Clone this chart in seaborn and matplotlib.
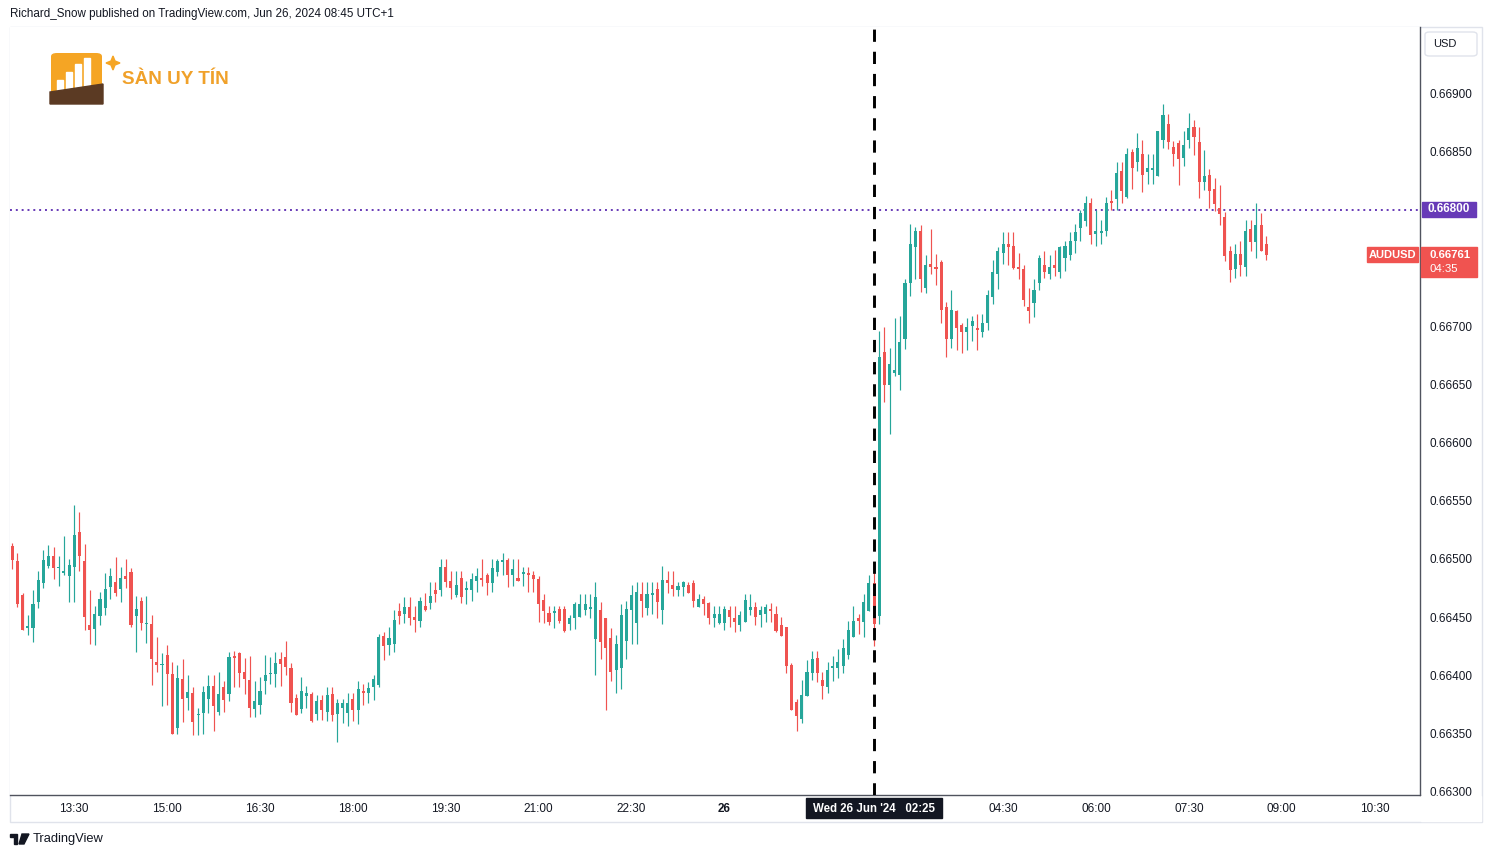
import numpy as np
import pandas as pd
import matplotlib
matplotlib.use("Agg")
import matplotlib.pyplot as plt
import seaborn as sns
from matplotlib.patches import Rectangle, FancyBboxPatch, Polygon

# ---------------- data (AUDUSD 5-min candles, 25 Jun 12:30 -> 26 Jun 08:45) ----------------
start_time = "2024-06-25 12:30"
opens = [0.66511,0.66498,0.66469,0.66441,0.66441,0.66463,0.66479,0.66494,0.66503,0.66492,0.66488,0.66485,0.66493,0.66523,0.66498,0.66443,0.66440,0.66451,0.66458,0.66476,0.66480,0.66474,0.66485,0.66489,
         0.66451,0.66464,0.66444,0.66444,0.66412,0.66409,0.66418,0.66401,0.66355,0.66397,0.66381,0.66385,0.66366,0.66368,0.66380,0.66391,0.66369,0.66390,0.66384,0.66417,0.66419,0.66403,0.66396,
         0.66371,0.66375,0.66395,0.66401,0.66401,0.66414,0.66416,0.66406,0.66381,0.66371,0.66382,0.66384,0.66367,0.66379,0.66369,0.66384,0.66367,0.66372,0.66368,0.66380,0.66370,0.66387,0.66385,
         0.66390,0.66392,0.66434,0.66426,0.66427,0.66455,0.66453,0.66459,0.66450,0.66447,0.66460,0.66462,0.66473,0.66473,0.66493,0.66481,0.66469,0.66484,0.66473,0.66473,0.66481,0.66484,0.66486,
         0.66479,0.66489,0.66497,0.66499,0.66486,0.66484,0.66487,0.66488,0.66486,0.66483,0.66465,0.66454,0.66454,0.66457,0.66457,0.66444,0.66449,0.66450,0.66456,0.66457,0.66431,0.66456,0.66449,
         0.66432,0.66405,0.66406,0.66430,0.66456,0.66445,0.66470,0.66458,0.66469,0.66474,0.66456,0.66482,0.66478,0.66473,0.66476,0.66478,0.66479,0.66459,0.66466,0.66462,0.66449,0.66445,0.66445,0.66456,
         0.66449,0.66443,0.66446,0.66456,0.66459,0.66452,0.66453,0.66457,0.66453,0.66443,0.66442,0.66409,0.66377,0.66363,0.66382,0.66402,0.66415,0.66396,0.66390,0.66406,0.66406,0.66408,
         0.66418,0.66433,0.66449,0.66446,0.66455,0.66479,0.66451,0.66678,0.66649,0.66660,0.66658,0.66689,0.66737,0.66768,0.66782,0.66733,0.66753,0.66751,
         0.66755,0.66716,0.66689,0.66713,0.66701,0.66695,0.66700,0.66698,0.66695,0.66703,0.66725,0.66745,0.66763,0.66770,0.66769,0.66751,0.66749,0.66716,0.66720,0.66737,0.66752,0.66745,0.66752,
         0.66746,0.66758,0.66761,0.66773,0.66784,0.66790,0.66806,0.66779,0.66780,0.66782,0.66807,0.66809,0.66833,0.66811,0.66849,0.66841,0.66848,0.66832,0.66834,0.66829,0.66860,0.66873,
         0.66854,0.66857,0.66844,0.66860,0.66871,0.66858,0.66824,0.66830,0.66818,0.66801,0.66794,0.66764,0.66749,0.66762,0.66751,0.66783,0.66772,0.66787,0.66770]
highs = [0.66514,0.66505,0.66471,0.66452,0.66473,0.66490,0.66508,0.66512,0.66510,0.66503,0.66520,0.66500,0.66546,0.66540,0.66513,0.66473,0.66460,0.66472,0.66488,0.66492,0.66502,0.66493,0.66500,0.66492,
         0.66468,0.66467,0.66468,0.66452,0.66433,0.66419,0.66426,0.66412,0.66409,0.66414,0.66400,0.66390,0.66372,0.66391,0.66400,0.66400,0.66403,0.66395,0.66420,0.66421,0.66420,0.66415,0.66417,
         0.66395,0.66399,0.66418,0.66416,0.66420,0.66420,0.66430,0.66411,0.66384,0.66399,0.66391,0.66386,0.66383,0.66383,0.66390,0.66390,0.66380,0.66380,0.66385,0.66385,0.66395,0.66393,0.66394,
         0.66400,0.66436,0.66437,0.66442,0.66456,0.66462,0.66467,0.66467,0.66460,0.66467,0.66471,0.66480,0.66480,0.66500,0.66500,0.66490,0.66490,0.66490,0.66481,0.66488,0.66492,0.66500,0.66488,
         0.66500,0.66500,0.66505,0.66501,0.66500,0.66500,0.66493,0.66493,0.66490,0.66485,0.66470,0.66460,0.66460,0.66460,0.66460,0.66452,0.66463,0.66470,0.66470,0.66470,0.66480,0.66463,0.66449,
         0.66441,0.66435,0.66461,0.66464,0.66478,0.66480,0.66480,0.66480,0.66480,0.66480,0.66494,0.66490,0.66490,0.66480,0.66481,0.66480,0.66482,0.66470,0.66468,0.66463,0.66460,0.66460,0.66460,0.66460,
         0.66460,0.66455,0.66470,0.66470,0.66463,0.66460,0.66461,0.66462,0.66460,0.66450,0.66442,0.66411,0.66380,0.66396,0.66413,0.66421,0.66421,0.66403,0.66412,0.66417,0.66423,0.66431,
         0.66447,0.66460,0.66453,0.66470,0.66486,0.66490,0.66696,0.66699,0.66681,0.66707,0.66709,0.66740,0.66788,0.66785,0.66787,0.66761,0.66783,0.66762,
         0.66757,0.66721,0.66731,0.66714,0.66703,0.66707,0.66709,0.66710,0.66710,0.66731,0.66757,0.66768,0.66781,0.66781,0.66781,0.66763,0.66752,0.66733,0.66740,0.66761,0.66764,0.66761,0.66765,
         0.66769,0.66773,0.66781,0.66788,0.66800,0.66812,0.66810,0.66800,0.66791,0.66811,0.66817,0.66841,0.66841,0.66853,0.66852,0.66866,0.66860,0.66848,0.66848,0.66867,0.66891,0.66882,
         0.66859,0.66860,0.66867,0.66883,0.66877,0.66871,0.66851,0.66835,0.66827,0.66821,0.66798,0.66769,0.66770,0.66773,0.66791,0.66791,0.66806,0.66797,0.66777]
lows = [0.66491,0.66459,0.66439,0.66435,0.66429,0.66458,0.66475,0.66492,0.66483,0.66477,0.66486,0.66463,0.66463,0.66490,0.66439,0.66427,0.66426,0.66443,0.66452,0.66466,0.66468,0.66463,0.66475,0.66442,
        0.66420,0.66439,0.66428,0.66392,0.66403,0.66374,0.66375,0.66350,0.66350,0.66360,0.66370,0.66349,0.66349,0.66350,0.66368,0.66352,0.66366,0.66369,0.66378,0.66390,0.66390,0.66384,0.66364,
        0.66364,0.66367,0.66384,0.66393,0.66390,0.66391,0.66400,0.66369,0.66366,0.66368,0.66372,0.66360,0.66362,0.66362,0.66361,0.66361,0.66343,0.66359,0.66357,0.66361,0.66358,0.66375,0.66376,
        0.66379,0.66390,0.66413,0.66418,0.66420,0.66444,0.66445,0.66443,0.66437,0.66442,0.66455,0.66457,0.66463,0.66468,0.66476,0.66466,0.66467,0.66462,0.66461,0.66464,0.66472,0.66477,0.66469,
        0.66472,0.66485,0.66486,0.66476,0.66477,0.66481,0.66477,0.66472,0.66472,0.66446,0.66445,0.66443,0.66441,0.66445,0.66437,0.66439,0.66440,0.66450,0.66452,0.66449,0.66400,0.66414,0.66370,
        0.66395,0.66385,0.66388,0.66414,0.66427,0.66427,0.66450,0.66452,0.66453,0.66449,0.66444,0.66471,0.66468,0.66468,0.66468,0.66471,0.66459,0.66459,0.66452,0.66444,0.66442,0.66444,0.66439,0.66442,
        0.66437,0.66438,0.66446,0.66452,0.66443,0.66442,0.66446,0.66446,0.66437,0.66434,0.66402,0.66370,0.66352,0.66359,0.66382,0.66396,0.66394,0.66380,0.66385,0.66395,0.66398,0.66402,
        0.66414,0.66433,0.66436,0.66433,0.66455,0.66425,0.66444,0.66635,0.66607,0.66657,0.66645,0.66680,0.66726,0.66740,0.66729,0.66728,0.66745,0.66735,
        0.66703,0.66673,0.66681,0.66679,0.66677,0.66679,0.66687,0.66679,0.66691,0.66697,0.66719,0.66732,0.66753,0.66752,0.66749,0.66740,0.66717,0.66703,0.66708,0.66731,0.66741,0.66740,0.66743,
        0.66741,0.66747,0.66757,0.66763,0.66773,0.66786,0.66770,0.66769,0.66770,0.66777,0.66800,0.66800,0.66806,0.66810,0.66818,0.66833,0.66815,0.66822,0.66822,0.66829,0.66853,0.66852,
        0.66837,0.66821,0.66837,0.66853,0.66847,0.66810,0.66817,0.66801,0.66799,0.66787,0.66756,0.66738,0.66741,0.66743,0.66743,0.66764,0.66758,0.66764,0.66757]
closes = [0.66499,0.66461,0.66439,0.66442,0.66461,0.66482,0.66499,0.66503,0.66492,0.66493,0.66490,0.66495,0.66521,0.66503,0.66450,0.66439,0.66453,0.66466,0.66474,0.66485,0.66471,0.66484,0.66483,0.66443,
          0.66457,0.66445,0.66445,0.66414,0.66409,0.66410,0.66401,0.66350,0.66398,0.66380,0.66386,0.66360,0.66367,0.66386,0.66391,0.66374,0.66384,0.66379,0.66416,0.66415,0.66402,0.66397,0.66372,
          0.66378,0.66387,0.66400,0.66402,0.66411,0.66410,0.66407,0.66376,0.66366,0.66387,0.66385,0.66361,0.66378,0.66370,0.66383,0.66366,0.66376,0.66376,0.66376,0.66370,0.66388,0.66385,0.66389,
          0.66397,0.66433,0.66425,0.66432,0.66448,0.66451,0.66459,0.66449,0.66448,0.66464,0.66456,0.66468,0.66470,0.66493,0.66480,0.66475,0.66478,0.66467,0.66475,0.66483,0.66485,0.66482,0.66479,
          0.66492,0.66498,0.66499,0.66486,0.66491,0.66481,0.66489,0.66486,0.66483,0.66461,0.66455,0.66446,0.66455,0.66447,0.66438,0.66449,0.66461,0.66461,0.66461,0.66459,0.66467,0.66429,0.66424,
          0.66403,0.66427,0.66452,0.66457,0.66469,0.66472,0.66464,0.66470,0.66471,0.66463,0.66482,0.66479,0.66474,0.66477,0.66480,0.66471,0.66464,0.66466,0.66461,0.66449,0.66453,0.66453,0.66457,0.66450,
          0.66446,0.66452,0.66465,0.66459,0.66450,0.66456,0.66459,0.66455,0.66438,0.66434,0.66408,0.66370,0.66365,0.66383,0.66403,0.66414,0.66402,0.66391,0.66405,0.66408,0.66412,0.66424,
          0.66439,0.66447,0.66447,0.66463,0.66479,0.66444,0.66673,0.66649,0.66667,0.66662,0.66686,0.66737,0.66770,0.66782,0.66740,0.66752,0.66751,0.66749,
          0.66714,0.66689,0.66714,0.66698,0.66695,0.66699,0.66704,0.66697,0.66703,0.66727,0.66746,0.66764,0.66770,0.66768,0.66750,0.66749,0.66722,0.66713,0.66731,0.66758,0.66746,0.66751,0.66750,
          0.66768,0.66769,0.66773,0.66781,0.66797,0.66806,0.66778,0.66782,0.66782,0.66806,0.66806,0.66831,0.66816,0.66848,0.66836,0.66853,0.66830,0.66836,0.66836,0.66867,0.66881,0.66858,
          0.66848,0.66843,0.66855,0.66870,0.66862,0.66824,0.66829,0.66816,0.66805,0.66796,0.66760,0.66748,0.66762,0.66752,0.66782,0.66772,0.66787,0.66764,0.66761]

price_ticks = [0.66300, 0.66350, 0.66400, 0.66450, 0.66500, 0.66550, 0.66600,
               0.66650, 0.66700, 0.66750, 0.66800, 0.66850, 0.66900]
time_tick_labels = ["13:30", "15:00", "16:30", "18:00", "19:30", "21:00", "22:30", "26",
                    "04:30", "06:00", "07:30", "09:00", "10:30"]
time_tick_times = ["2024-06-25 13:30", "2024-06-25 15:00", "2024-06-25 16:30", "2024-06-25 18:00",
                   "2024-06-25 19:30", "2024-06-25 21:00", "2024-06-25 22:30", "2024-06-26 00:00",
                   "2024-06-26 04:30", "2024-06-26 06:00",
                   "2024-06-26 07:30", "2024-06-26 09:00", "2024-06-26 10:30"]
level_line = 0.66800
event_time = "2024-06-26 02:25"
last_price = 0.66761
countdown = "04:35"

# ---------------- styling ----------------
sns.set_theme(style="white")
plt.rcParams["font.family"] = ["Liberation Sans", "DejaVu Sans"]
GREEN = "#26a69a"
RED = "#ef5350"
TXT = "#131722"

W, H = 1492, 857
fig = plt.figure(figsize=(W / 100, H / 100), dpi=100)
fig.patch.set_facecolor("white")


def fx(x):
    return x / W


def fy(y):
    return 1 - y / H


ax = fig.add_axes([fx(10), fy(795), fx(1420) - fx(10), fy(27) - fy(795)])
ax.set_facecolor("white")

df = pd.DataFrame({"open": opens, "high": highs, "low": lows, "close": closes})
df["time"] = pd.date_range(start_time, periods=len(df), freq="5min")
df["i"] = np.arange(len(df))
step = pd.Timedelta("5min")
t0 = pd.Timestamp(start_time)


def t2i(t):
    return (pd.Timestamp(t) - t0) / step


up = df["close"] >= df["open"]
cols = np.where(up, GREEN, RED)
ax.vlines(df["i"], df["low"], df["high"], colors=cols, lw=0.85, zorder=2)
body_bot = np.minimum(df["open"], df["close"])
body_h = np.maximum((df["close"] - df["open"]).abs(), 0.000012)
ax.bar(df["i"], body_h, bottom=body_bot, width=0.6, color=cols, linewidth=0, zorder=3)

# level line and event line
ax.axhline(level_line, color="#673ab7", lw=1.4, ls=(0, (1, 2)), zorder=1)
ax.axvline(t2i(event_time), color="black", lw=2.1, ls=(0, (4.2, 3.4)), zorder=4, ymax=1.0)

ax.set_xlim(-0.45, 272.8)
ax.set_ylim(0.662974, 0.669567)

# price ticks hidden behind the level / last-price labels are left blank
hidden_ticks = [0.66750, 0.66800]
ax.yaxis.tick_right()
ax.set_yticks(price_ticks)
ax.set_yticklabels(["" if any(abs(p - h) < 1e-9 for h in hidden_ticks) else f"{p:.5f}"
                    for p in price_ticks])
ax.tick_params(axis="y", length=0, pad=6.5, labelsize=8.5, labelcolor=TXT)
ax.set_xticks([t2i(t) for t in time_tick_times])
ax.set_xticklabels(time_tick_labels)
ax.tick_params(axis="x", length=0, pad=6, labelsize=8.5, labelcolor=TXT)
for lab in ax.get_xticklabels():
    if lab.get_text() == "26":
        lab.set_fontweight("bold")

for s in ["top", "left"]:
    ax.spines[s].set_visible(False)
for s in ["right", "bottom"]:
    ax.spines[s].set_color("#50535e")
    ax.spines[s].set_linewidth(1.0)
ax.grid(False)

# outer frame
fig.add_artist(Rectangle((fx(10), fy(822)), fx(1482) - fx(10), fy(27) - fy(822),
                         transform=fig.transFigure, fill=False, edgecolor="#e0e3eb", lw=1, zorder=0))
# cover under-scale
fig.add_artist(Rectangle((fx(1421), fy(821)), fx(1481) - fx(1421), fy(796) - fy(821),
                         transform=fig.transFigure, color="white", zorder=5))

# USD box
fig.add_artist(FancyBboxPatch((fx(1425), fy(56)), fx(1477) - fx(1425), fy(32) - fy(56),
                              boxstyle="round,pad=0,rounding_size=0.003", transform=fig.transFigure,
                              facecolor="white", edgecolor="#e0e3eb", lw=1, zorder=6))
fig.text(fx(1433), fy(44), "USD", fontsize=8, color=TXT, va="center", ha="left", zorder=7)

# level label
fig.add_artist(Rectangle((fx(1422), fy(217)), fx(1476) - fx(1422), fy(202) - fy(217),
                         transform=fig.transFigure, color="#673ab7", zorder=6))
fig.text(fx(1449), fy(209.5), f"{level_line:.5f}", fontsize=8.5, color="white", weight="bold",
         va="center", ha="center", zorder=7)

# last price labels
fig.add_artist(Rectangle((fx(1367), fy(262)), fx(1418) - fx(1367), fy(247) - fy(262),
                         transform=fig.transFigure, color="#f05350", zorder=6))
fig.text(fx(1392.5), fy(254.5), "AUDUSD", fontsize=8, color="white", weight="bold",
         va="center", ha="center", zorder=7)
fig.add_artist(Rectangle((fx(1421), fy(277)), fx(1477) - fx(1421), fy(247) - fy(277),
                         transform=fig.transFigure, color="#f05350", zorder=6))
fig.text(fx(1429), fy(254.5), f"{last_price:.5f}", fontsize=8.2, color="white", weight="bold",
         va="center", ha="left", zorder=7)
fig.text(fx(1429), fy(269.5), countdown, fontsize=8.2, color="white", va="center", ha="left", zorder=7)

# event time label on time axis
fig.add_artist(Rectangle((fx(806), fy(818)), fx(942) - fx(806), fy(798) - fy(818),
                         transform=fig.transFigure, color="#131722", zorder=6))
fig.text(fx(874), fy(808.5), "Wed 26 Jun '24   02:25", fontsize=8.3, color="white", weight="bold",
         va="center", ha="center", zorder=7)

# header
fig.text(fx(10), fy(14), "Richard_Snow published on TradingView.com, Jun 26, 2024 08:45 UTC+1",
         fontsize=8.4, color=TXT, va="center", ha="left")

# bottom TradingView logo
fig.add_artist(Polygon([[fx(10), fy(834)], [fx(17), fy(834)], [fx(17), fy(844)], [fx(14), fy(844)],
                        [fx(14), fy(837)], [fx(10), fy(837)]], closed=True, transform=fig.transFigure,
                       color=TXT, zorder=3))
fig.add_artist(Polygon([[fx(22), fy(834)], [fx(29), fy(834)], [fx(24), fy(844)], [fx(19), fy(844)]],
                       closed=True, transform=fig.transFigure, color=TXT, zorder=3))
fig.text(fx(33), fy(839), "TradingView", fontsize=9.3, color=TXT, va="center", ha="left")

# watermark logo
fig.add_artist(FancyBboxPatch((fx(51), fy(97)), fx(102) - fx(51), fy(53) - fy(97),
                              boxstyle="round,pad=0,rounding_size=0.004", transform=fig.transFigure,
                              facecolor="#f5a524", edgecolor="none", zorder=3))
for bx, by in [(57, 80), (66, 72), (75, 64), (84, 58)]:
    fig.add_artist(Rectangle((fx(bx), fy(94)), fx(bx + 6) - fx(bx), fy(by) - fy(94),
                             transform=fig.transFigure, color="white", zorder=4))
fig.add_artist(Polygon([[fx(50), fy(92)], [fx(103), fy(84)], [fx(103), fy(104)], [fx(50), fy(104)]],
                       closed=True, transform=fig.transFigure, color="#5b3a23", zorder=5))
fig.add_artist(Polygon([[fx(113), fy(56)], [fx(115), fy(61)], [fx(120), fy(63)], [fx(115), fy(65)],
                        [fx(113), fy(70)], [fx(111), fy(65)], [fx(106), fy(63)], [fx(111), fy(61)]],
                       closed=True, transform=fig.transFigure, color="#f5a524", zorder=5))
fig.text(fx(122), fy(80), "SÀN UY TÍN", fontsize=13.6, color="#f0a12a", weight="bold",
         va="center", ha="left", zorder=5)

fig.savefig("out.png", dpi=100, facecolor="white")
